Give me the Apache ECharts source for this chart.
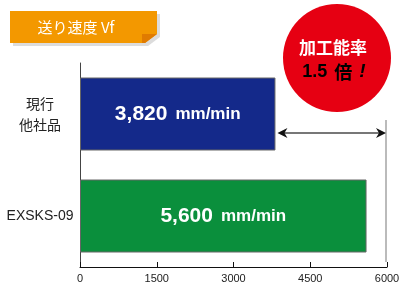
<!DOCTYPE html>
<html><head><meta charset="utf-8">
<script src="https://cdn.jsdelivr.net/npm/echarts@6/dist/echarts.min.js"></script>
<style>html,body{margin:0;padding:0;background:#fff}#c{width:400px;height:305px}</style>
</head><body><div id="c"></div>
<script>
const categories = ['EXSKS-09', '現行\n他社品'];
const values = [5600, 3820];
const barColors = ['#0a8f3c', '#14298a'];
const unit = 'mm/min';
const xTicks = [0, 1500, 3000, 4500, 6000];
const titleText = '送り速度 Vf';
const badgeLine1 = '加工能率';
const badgeLine2 = '1.5 倍';

const chart = echarts.init(document.getElementById('c'), null, {renderer: 'canvas'});
const FONT = '"Liberation Sans", Arial, sans-serif';
const CJK = '"Noto Sans CJK JP", sans-serif';

const option = {
  animation: false,
  grid: {left: 80, right: 13, top: 63, bottom: 38, containLabel: false, outerBoundsMode: 'none'},
  xAxis: {
    type: 'value', min: xTicks[0], max: xTicks[xTicks.length - 1], interval: 1500,
    axisLine: {show: true, lineStyle: {color: '#111', width: 1}},
    axisTick: {show: true, inside: true, length: 5, lineStyle: {color: '#111'}},
    axisLabel: {color: '#222', fontSize: 11, fontFamily: FONT, margin: 6, formatter: v => String(v)},
    splitLine: {show: false}
  },
  yAxis: {
    type: 'category', data: categories,
    axisLine: {show: true, lineStyle: {color: '#444', width: 1}},
    axisTick: {show: false},
    axisLabel: {color: '#222', fontSize: 14, fontFamily: CJK, margin: 40, align: 'center', lineHeight: 21,
      formatter: v => v === 'EXSKS-09' ? '{e|' + v + '}' : v,
      rich: {e: {fontFamily: FONT, fontSize: 14, color: '#222'}}}
  },
  series: [{
    type: 'bar', barWidth: 73,
    data: values.map((v, i) => ({value: v, itemStyle: {color: barColors[i]}})),
    itemStyle: {borderColor: '#666', borderWidth: 1},
    label: {
      show: true, position: 'inside',
      formatter: p => '{n|' + p.value.toLocaleString('en-US') + '}{s| }{u|' + unit + '}',
      rich: {
        n: {color: '#fff', fontSize: 21, fontWeight: 'bold', fontFamily: FONT},
        s: {fontSize: 21, width: 8},
        u: {color: '#fff', fontSize: 17, fontWeight: 'bold', fontFamily: FONT}
      }
    }
  }]
};
chart.setOption(option);

const p0 = chart.convertToPixel({gridIndex: 0}, [values[1], 1]);
const p6 = chart.convertToPixel({gridIndex: 0}, [xTicks[xTicks.length - 1], 1]);
const p6b = chart.convertToPixel({gridIndex: 0}, [xTicks[xTicks.length - 1], 0]);
const arrowY = p0[1] + 19;
const x1 = p0[0] + 2, x2 = p6[0] - 1;

chart.setOption({
  graphic: [
    {type: 'polygon', shape: {points: [[13,14],[160,14],[160,37],[148,46],[13,46]]}, style: {fill: '#dcdcdc'}, z: 10},
    {type: 'polygon', shape: {points: [[10,11],[157,11],[157,34],[145,43],[10,43]]}, style: {fill: '#f39800'}, z: 11},
    {type: 'polygon', shape: {points: [[142,34],[157,34],[145,43],[142,43]]}, style: {fill: '#e07b00'}, z: 12},
    {type: 'text', x: 76, y: 27, style: {text: titleText, fill: '#fff', font: '15px ' + CJK, align: 'center', verticalAlign: 'middle'}, z: 13},
    {type: 'line', shape: {x1: p6[0] - 1, y1: 120, x2: p6[0] - 1, y2: p6b[1] + 46}, style: {stroke: '#bbb', lineWidth: 2}, z: 5},
    {type: 'line', shape: {x1: x1 + 6, y1: arrowY, x2: x2 - 6, y2: arrowY}, style: {stroke: '#777', lineWidth: 2}, z: 6},
    {type: 'polygon', shape: {points: [[x1, arrowY],[x1 + 10, arrowY - 5],[x1 + 7, arrowY],[x1 + 10, arrowY + 5]]}, style: {fill: '#111'}, z: 7},
    {type: 'polygon', shape: {points: [[x2, arrowY],[x2 - 10, arrowY - 5],[x2 - 7, arrowY],[x2 - 10, arrowY + 5]]}, style: {fill: '#111'}, z: 7},
    {type: 'circle', shape: {cx: 337, cy: 58, r: 54}, style: {fill: '#e60012'}, z: 20},
    {type: 'text', x: 333, y: 48, style: {text: badgeLine1, fill: '#fff', font: 'bold 17px ' + CJK, align: 'center', verticalAlign: 'middle'}, z: 21},
    {type: 'text', x: 334, y: 72, style: {
      text: '{a|1.5}{s| }{b|倍}{s| }{c|!}', align: 'center', verticalAlign: 'middle',
      rich: {
        a: {color: '#fff', fontSize: 18, fontWeight: 'bold', fontFamily: FONT},
        s: {fontSize: 18, width: 7},
        b: {color: '#fff', fontSize: 18, fontWeight: 'bold', fontFamily: CJK},
        c: {color: '#fff', fontSize: 19, fontWeight: 'bold', fontStyle: 'italic', fontFamily: FONT}
      }}, z: 21}
  ]
});
</script></body></html>
